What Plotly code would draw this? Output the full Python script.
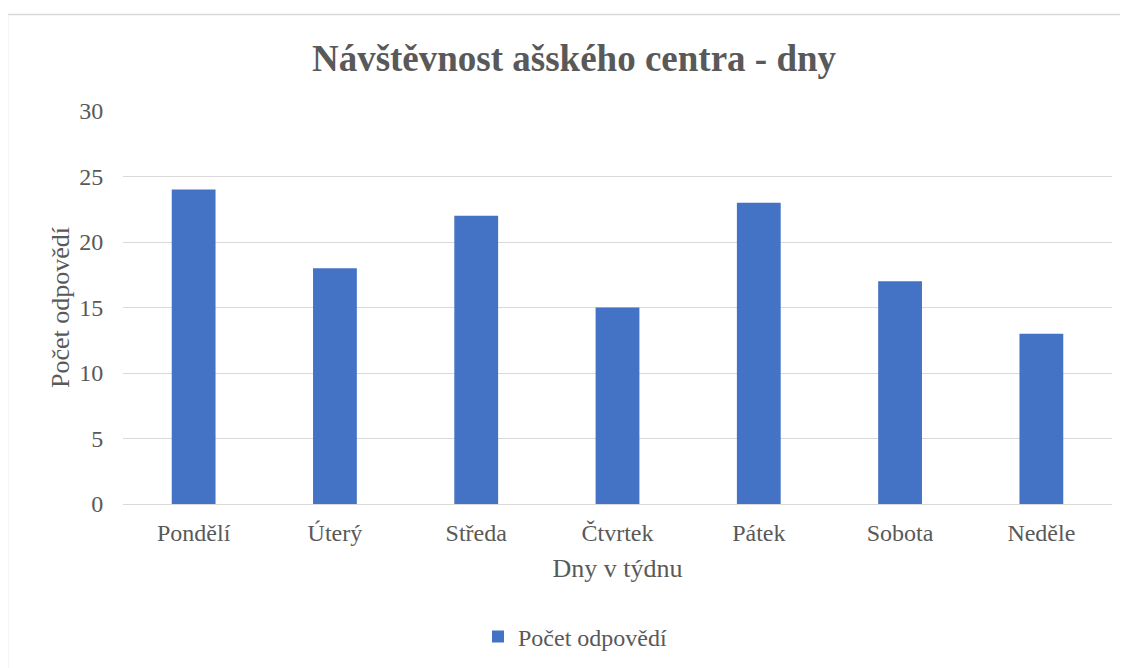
import plotly.graph_objects as go

categories = ["Pondělí", "Úterý", "Středa", "Čtvrtek", "Pátek", "Sobota", "Neděle"]
values = [24, 18, 22, 15, 23, 17, 13]
y_ticks = [0, 5, 10, 15, 20, 25, 30]

FONT = "Liberation Serif, Times New Roman, serif"
GREY = "#595959"
OFF = 8  # page body margin offset

fig = go.Figure()
fig.add_trace(go.Bar(
    x=categories, y=values, name="Počet odpovědí",
    marker=dict(color="#4472C4", line=dict(width=0)),
    width=0.31,
))

W, H = 1128, 668
L, T = 123 - OFF, 111 - OFF
R = W - (1112 - OFF)
B = H - (504 - OFF)
pw, ph = W - L - R, H - T - B


def px_x(sx):
    return (sx - OFF - L) / pw


def px_y(sy):
    return (H - B - (sy - OFF)) / ph


fig.update_layout(
    width=W, height=H,
    margin=dict(l=L, r=R, t=T, b=B),
    paper_bgcolor="white", plot_bgcolor="white",
    font=dict(family=FONT, color=GREY, size=24),
    title=dict(text="<b>Návštěvnost ašského centra - dny</b>",
               x=(574 - OFF) / W, xref="container", xanchor="center",
               y=1 - (58 - OFF) / H, yref="container", yanchor="middle",
               font=dict(family=FONT, size=37, color=GREY)),
    showlegend=True,
    legend=dict(orientation="h", x=px_x(478), xanchor="left",
                y=px_y(637), yanchor="middle",
                font=dict(family=FONT, size=24, color=GREY),
                itemwidth=30),
)
fig.update_xaxes(
    showgrid=False, showline=False, zeroline=False,
    tickfont=dict(family=FONT, size=24, color=GREY),
    ticks="outside", ticklen=7, tickcolor="rgba(0,0,0,0)",
    title=dict(text="Dny v týdnu", font=dict(family=FONT, size=26, color=GREY), standoff=14),
)
fig.update_yaxes(
    range=[0, 30], tickvals=y_ticks, showgrid=True, gridcolor="#d9d9d9", gridwidth=1.3,
    zeroline=True, zerolinecolor="#d9d9d9", zerolinewidth=1.3, showline=False,
    tickfont=dict(family=FONT, size=24, color=GREY),
    ticks="outside", ticklen=14, tickcolor="rgba(0,0,0,0)",
    title=dict(text="Počet odpovědí", font=dict(family=FONT, size=26, color=GREY), standoff=2),
)
# outer chart border
fig.add_shape(type="rect", xref="paper", yref="paper",
              x0=px_x(7.5), x1=px_x(1160),
              y0=px_y(720), y1=px_y(14.5),
              line=dict(color="#d9d9d9", width=1.5), fillcolor="rgba(0,0,0,0)", layer="below")

fig.write_html("out.html")
